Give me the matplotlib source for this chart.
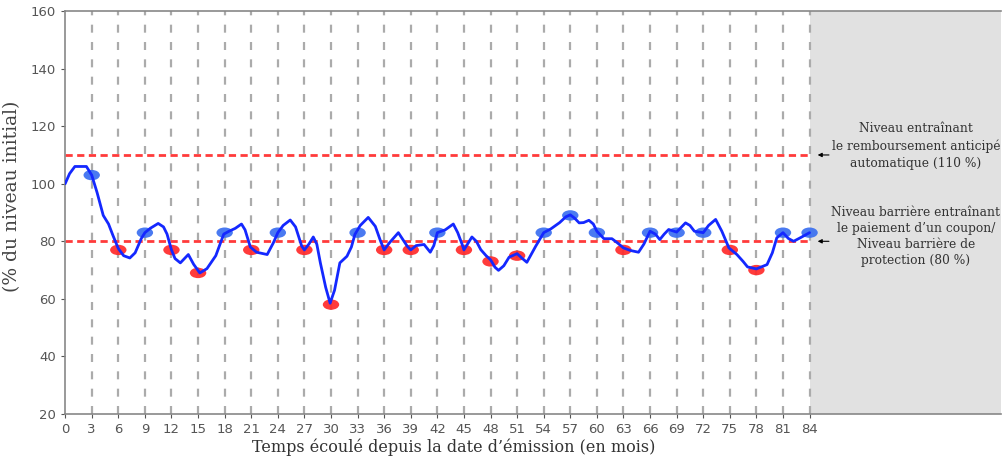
import numpy as np
import matplotlib
matplotlib.use("Agg")
import matplotlib.pyplot as plt
from matplotlib.patches import Ellipse

# observation dates (months) and the level read at each of them
obs_months = list(range(3, 85, 3))
obs_levels = [103, 77, 83, 77, 69, 83, 77, 83, 77, 58, 83, 77, 77, 83,
              77, 73, 75, 83, 89, 83, 77, 83, 83, 83, 77, 70, 83, 83]

# path of the underlying
path_months = [0, 0.5, 1.1, 2.4, 3, 3.6, 4.3, 4.9, 5.4, 6, 6.6, 7.3, 7.9, 8.6, 9,
               9.6, 10.5, 11.1, 11.5, 12, 12.4, 13, 13.9, 14.5, 15.2, 16, 17, 17.9,
               18.5, 19.2, 19.9, 20.3, 20.9, 21.6, 22.8, 23.5, 24, 24.6, 25.4, 26,
               26.7, 27, 27.5, 28, 28.4, 28.8, 29.4, 29.9, 30.4, 31, 31.8, 32.3,
               32.7, 33.3, 34.2, 35, 35.6, 36, 36.6, 37.6, 38.6, 39, 39.6, 40.5,
               41.2, 41.6, 42, 42.9, 43.8, 44.3, 44.8, 45, 45.9, 46.4, 46.9, 47.5,
               48, 48.5, 48.9, 49.5, 50.1, 51, 51.6, 52.1, 53.1, 54, 54.8, 55.8,
               56.5, 57, 57.5, 58, 58.5, 59.1, 59.6, 60, 60.8, 61.7, 62.3, 63,
               63.8, 64.7, 65.3, 66, 66.6, 67.1, 67.6, 68.1, 69, 70, 70.5, 71, 72,
               72.6, 73.4, 74.1, 74.9, 75.8, 76.5, 77, 78, 79.2, 79.8, 80.3, 81,
               81.6, 82.2, 83, 84]
path_levels = [100, 103.5, 106, 106, 103, 97, 89, 86, 82, 77.5, 75, 74.2, 76, 81, 83,
               84.5, 86.2, 85, 82.5, 77, 74, 72.5, 75.4, 72, 69, 70.5, 75, 82.5,
               83.5, 84.5, 86, 84, 78, 76.2, 75.4, 79.5, 83, 85.5, 87.4, 85,
               78.3, 77, 79, 81.5, 79, 72.5, 64, 58.5, 63, 72.5, 74.8, 78,
               82.4, 85.5, 88.3, 85.2, 80, 77, 79.5, 83, 78.3, 77, 78.5, 78.9,
               76.2, 78.5, 83, 84, 86, 83, 78.9, 77, 81.5, 80, 77.1, 75,
               73.6, 71, 69.9, 71.5, 74.5, 75.7, 74, 72.7, 78.3, 83, 84.3, 86.5,
               88.5, 89.2, 88, 86.4, 86.5, 87.3, 86, 83.5, 80.9, 80.9, 79.5, 77.7,
               76.8, 76.2, 79, 83.5, 82.5, 80.6, 82.5, 84.1, 83.2, 86.4, 85.5, 83.5, 83,
               85.5, 87.6, 83.5, 77.7, 75.4, 73, 71.1, 70.4, 71.9, 76, 81.2, 83,
               81, 80, 81.3, 83]

autocall_level = 110
barrier_level = 80
maturity = 84

txt_autocall = "Niveau entraînant\nle remboursement anticipé\nautomatique (110 %)"
txt_barrier = "Niveau barrière entraînant\nle paiement d\u2019un coupon/\nNiveau barrière de\nprotection (80 %)"

fig = plt.figure(figsize=(10.02, 4.62), dpi=100)
ax = fig.add_axes([0.065, 0.104, 0.934, 0.872])
ax.set_xlim(0, 105.6)
ax.set_ylim(20, 160)

# grey zone after maturity
ax.axvspan(maturity, 105.6, color="#e1e1e1", zorder=0, lw=0)

# dashed verticals at observation dates
for m in obs_months:
    ax.axvline(m, color="#ababab", lw=1.6, dashes=(3.6, 4.2), zorder=1)

# barrier lines
for lvl in (autocall_level, barrier_level):
    ax.plot([0, maturity], [lvl, lvl], color="#ff3b3b", lw=2, dashes=(2.6, 1.6), zorder=2)

# observation markers
for m, v in zip(obs_months, obs_levels):
    col = "#3a6ff0" if v >= barrier_level else "#ff2a2a"
    ax.add_patch(Ellipse((m, v), 1.85, 3.6, color=col, alpha=0.92, zorder=3, lw=0))

ax.plot(path_months, path_levels, color="#1428ff", lw=2, zorder=4,
        solid_joinstyle="round", solid_capstyle="round")

# annotations in the grey zone
ax.text(96, 113.2, txt_autocall, ha="center", va="center", family="DejaVu Serif",
        fontsize=8.8, color="#333333", linespacing=1.4)
ax.text(96, 81.5, txt_barrier, ha="center", va="center", family="DejaVu Serif",
        fontsize=8.8, color="#333333", linespacing=1.3)
for lvl in (autocall_level, barrier_level):
    ax.annotate("", xy=(84.6, lvl), xytext=(86.5, lvl),
                arrowprops=dict(arrowstyle="-|>", color="black", lw=0.8,
                                mutation_scale=6))

ax.set_xticks(range(0, 85, 3))
ax.set_yticks(range(20, 161, 20))
ax.tick_params(labelsize=9.5, colors="#555555", length=3, width=0.8)
for s in ("left", "bottom", "top"):
    ax.spines[s].set_color("#888888")
    ax.spines[s].set_linewidth(1.2)
ax.spines["right"].set_visible(False)

ax.set_xlabel("Temps écoulé depuis la date d\u2019émission (en mois)", family="DejaVu Serif",
              fontsize=11.5, color="#333333", labelpad=2)
ax.xaxis.set_label_coords(0.415, -0.06)
ax.set_ylabel("(% du niveau initial)", family="DejaVu Serif", fontsize=13.5,
              color="#444444")
ax.yaxis.set_label_coords(-0.047, 0.54)

fig.savefig("out.png", dpi=100)
